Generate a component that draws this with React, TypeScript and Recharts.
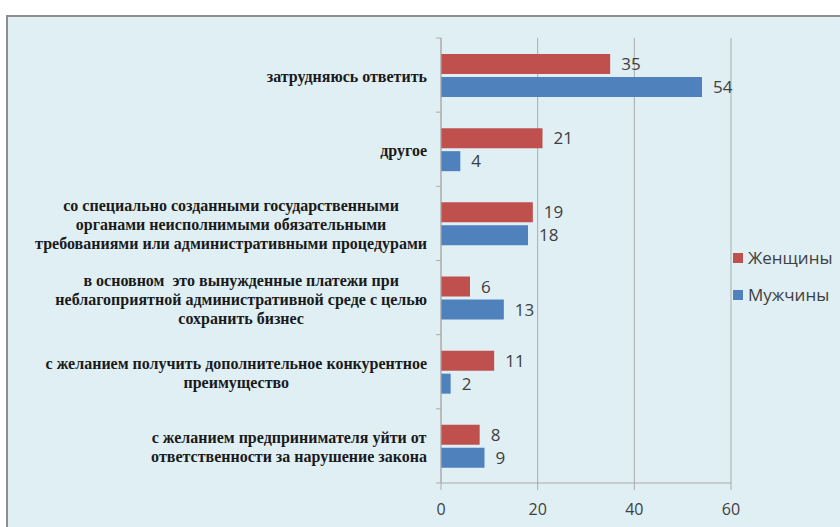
import { BarChart, Bar, XAxis, YAxis, CartesianGrid, LabelList } from 'recharts'

// Категории (сверху вниз), строки подписи уже разбиты как в оригинале
const categories: string[][] = [
  ['затрудняюсь ответить'],
  ['другое'],
  [
    'со специально созданными государственными',
    'органами неисполнимыми обязательными',
    'требованиями или административными процедурами',
  ],
  [
    'в основном  это вынужденные платежи при',
    'неблагоприятной административной среде с целью',
    'сохранить бизнес',
  ],
  ['с желанием получить дополнительное конкурентное', 'преимущество'],
  ['с желанием предпринимателя уйти от', 'ответственности за нарушение закона'],
]

const women = [35, 21, 19, 6, 11, 8]
const men = [54, 4, 18, 13, 2, 9]

const xTicks = [0, 20, 40, 60]

const seriesNames = ['Женщины', 'Мужчины']

const RED = '#C0504D'
const BLUE = '#4F81BD'
const GRID = '#ABABAB'
const BG = '#DFEFF4'
const SANS = '"Open Sans", "Liberation Sans", sans-serif'
const SERIF = '"Liberation Serif", "DejaVu Serif", serif'

const data = categories.map((lines, i) => ({
  name: lines.join('\n'),
  women: women[i],
  men: men[i],
}))

// Подпись категории: блок выровнен вправо, строки центрированы внутри
function CategoryTick(props: any) {
  const { x, y, payload, index } = props
  const half = payload && payload.offset ? payload.offset : 37.1
  const lines = String(payload.value).split('\n')
  return (
    <g>
      <line x1={x - 5} x2={x} y1={y - half} y2={y - half} stroke={GRID} />
      {index === categories.length - 1 && (
        <line x1={x - 5} x2={x} y1={y + half} y2={y + half} stroke={GRID} />
      )}
      <foreignObject x={x - 440} y={y - half} width={426} height={half * 2}>
        <div
          style={{
            width: '100%',
            height: '100%',
            display: 'flex',
            alignItems: 'center',
            justifyContent: 'flex-end',
          }}
        >
          <div
            style={{
              textAlign: 'center',
              fontFamily: SERIF,
              fontWeight: 'bold',
              fontSize: 16,
              lineHeight: '19px',
              color: '#1a1a1a',
              whiteSpace: 'pre',
              paddingTop: 3,
            }}
          >
            {lines.map((l, i) => (
              <div key={i}>{l}</div>
            ))}
          </div>
        </div>
      </foreignObject>
    </g>
  )
}

export default function App() {
  const colors = [RED, BLUE]
  return (
    <div
      style={{
        position: 'fixed',
        left: 0,
        top: 0,
        width: 840,
        height: 527,
        background: '#fff',
        overflow: 'hidden',
      }}
    >
      <div
        style={{
          position: 'absolute',
          left: 6,
          top: 15,
          width: 860,
          height: 540,
          background: BG,
          border: '2px solid #8E8E8E',
          boxSizing: 'border-box',
        }}
      />
      <div style={{ position: 'absolute', left: 0, top: 0 }}>
        <BarChart
          width={840}
          height={527}
          data={data}
          layout="vertical"
          margin={{ top: 38, right: 109, bottom: 14, left: 11 }}
          barSize={20}
          barGap={3}
        >
          <CartesianGrid horizontal={false} stroke={GRID} />
          <XAxis
            type="number"
            domain={[0, 60]}
            ticks={xTicks}
            tickSize={7}
            height={30}
            tick={{ fill: '#404040', fontSize: 16, fontFamily: SANS }}
            tickMargin={14}
            axisLine={{ stroke: GRID }}
            tickLine={{ stroke: GRID }}
          />
          <YAxis
            type="category"
            dataKey="name"
            width={430}
            tickSize={0}
            tickMargin={0}
            tickLine={false}
            axisLine={{ stroke: GRID }}
            tick={<CategoryTick />}
            interval={0}
          />
          <Bar dataKey="women" name={seriesNames[0]} fill={RED} isAnimationActive={false}>
            <LabelList
              dataKey="women"
              position="right"
              offset={11}
              fill="#404040"
              fontSize={17}
              fontFamily={SANS}
            />
          </Bar>
          <Bar dataKey="men" name={seriesNames[1]} fill={BLUE} isAnimationActive={false}>
            <LabelList
              dataKey="men"
              position="right"
              offset={11}
              fill="#404040"
              fontSize={17}
              fontFamily={SANS}
            />
          </Bar>
        </BarChart>
      </div>
      {/* Легенда справа */}
      <div
        style={{
          position: 'absolute',
          left: 733,
          top: 239,
          fontFamily: SANS,
          fontSize: 17,
          color: '#404040',
        }}
      >
        {seriesNames.map((n, i) => (
          <div key={n} style={{ display: 'flex', alignItems: 'center', height: 37 }}>
            <span
              style={{
                width: 10,
                height: 10,
                background: colors[i],
                marginRight: 5,
                display: 'inline-block',
              }}
            />
            <span>{n}</span>
          </div>
        ))}
      </div>
    </div>
  )
}
